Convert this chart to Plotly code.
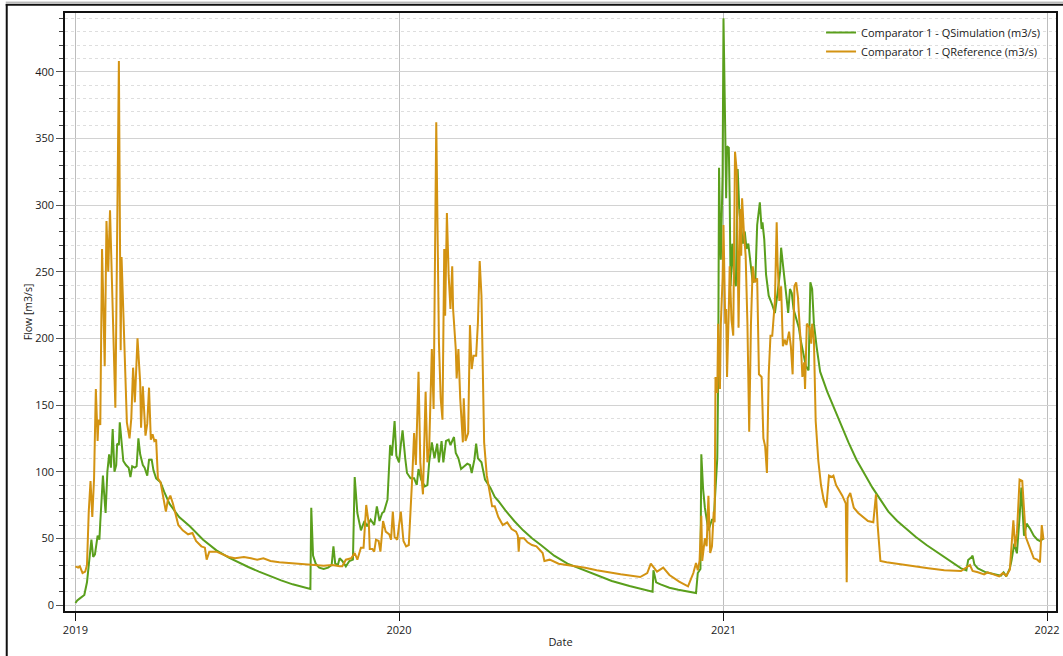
import pandas as pd
import plotly.graph_objects as go

# ---------------- data (day offset from 2019-01-01, flow m3/s) ----------------
START = "2019-01-01"

sim_days_2019 = [0, 2, 5, 10, 13, 16, 18, 20, 22, 25, 27, 28, 31, 32, 34, 36, 38, 40, 42, 44,
                 46, 47, 49, 50, 52, 54, 57, 60, 62, 64, 67, 69, 71, 73, 76, 78, 81, 83, 86, 88,
                 91, 96, 100, 106, 117, 129, 144, 159, 173,
                 185, 195, 207, 220, 232, 245, 256, 265, 266, 268, 271, 275, 280, 285, 289, 291, 293, 296]
sim_flow_2019 = [1.5, 3.5, 5, 7.5, 17, 36, 49, 36, 38, 52, 49, 62, 97, 87, 69, 100, 113, 103, 132, 100,
                 105, 121, 120, 137, 121, 108, 105, 103, 96, 104, 103, 104, 125, 113, 105, 103, 97, 109, 109, 101,
                 95, 92, 85, 76, 66, 59, 49, 41, 35.5,
                 31.5, 28.5, 25, 21.5, 18.5, 15.5, 13.5, 12, 73, 37, 31, 28, 27, 28, 30, 44, 31, 30]

sim_days_2020 = [298, 301, 305, 309, 313, 315, 318, 322, 326, 329, 333, 337, 340, 343, 346, 348, 352, 355, 357, 360,
                 362, 365, 367, 369, 372, 374, 378, 382, 385, 387, 390, 394, 397, 399, 402, 405, 408, 410, 413, 415,
                 418, 421, 423, 427, 429, 432, 435, 438, 442, 445, 447, 450, 452, 454, 458, 462, 468, 473, 477,
                 485, 495, 505, 515, 525, 540, 555, 570, 588, 605, 625, 640, 648, 651, 652, 655, 660, 670, 680]
sim_flow_2020 = [35, 33, 29, 33, 34, 96, 69, 56, 63, 59, 64, 60, 74, 63, 69, 70, 79, 120, 112, 138,
                 112, 107, 120, 131, 110, 99, 95, 95, 90, 102, 94, 89, 90, 107, 122, 110, 121, 107, 123, 107,
                 123, 124, 120, 126, 114, 110, 102, 104, 106, 105, 99, 109, 121, 110, 107, 94, 88, 81, 78,
                 71, 63, 56, 50, 45, 37, 31, 27, 22, 18, 14.3, 11.8, 10.6, 10, 26, 17, 15.5, 13, 11.5]

sim_days_2021 = [691, 700, 702, 705, 706, 708, 710, 712, 714, 716, 718, 720, 722, 724, 725, 726, 727, 728, 730, 731,
                 733, 734, 735, 737, 738, 739, 741, 743, 745, 747, 749, 750, 753, 755, 757, 759, 762, 764, 767, 769,
                 772, 774, 775, 777, 779, 782, 786, 789, 792, 795, 796, 799, 802, 804, 806, 808, 810, 813, 816, 818,
                 821, 824, 827, 829, 831, 833, 836, 840, 848, 856, 864, 872, 881, 890, 899, 908, 917,
                 927, 937, 948, 960, 972, 985, 999, 1005, 1007, 1011, 1012, 1014, 1018, 1027, 1037, 1044, 1047, 1050,
                 1054, 1056, 1059, 1062, 1065, 1067, 1070, 1073, 1077, 1081, 1085, 1088, 1092]
sim_flow_2021 = [10, 9, 24, 27, 113, 87, 73, 64, 56, 60, 64, 64, 93, 110, 171, 328, 285, 259, 323, 440,
                 354, 305, 344, 343, 305, 239, 271, 245, 239, 327, 294, 288, 271, 280, 267, 271, 251, 242, 245, 285,
                 302, 282, 287, 274, 248, 232, 225, 219, 234, 251, 268, 251, 234, 219, 237, 234, 222, 214, 208, 199,
                 188, 179, 176, 242, 237, 211, 194, 175, 160, 147, 134, 122, 109, 98, 88, 79, 70,
                 63, 57, 51, 45, 39.5, 33.5, 27.5, 26, 33.75, 36, 37, 30.5, 27.5, 24.5, 23, 22, 24.5, 21.5,
                 27.5, 33.75, 46, 38.75, 66, 88, 52, 61, 57, 52, 49, 48, 50]

ref_days_2019 = [0, 3, 5, 8, 11, 13, 15, 17, 19, 21, 23, 25, 26, 28, 30, 33, 35, 37, 39, 42,
                 45, 46, 49, 51, 52, 54, 56, 58, 61, 63, 65, 67, 70, 73, 74, 76, 79, 81, 83, 85,
                 87, 89, 91, 93, 96, 99, 102, 104, 107, 110, 113, 116, 121, 127, 132, 136, 142, 146, 148, 151,
                 159, 166, 173,
                 180, 190, 198, 205, 212, 220, 230, 240, 250, 260, 270, 280, 290, 296]
ref_flow_2019 = [29, 28, 29, 24, 25, 30, 70, 93, 66, 95, 162, 123, 139, 135, 267, 179, 288, 250, 296, 218,
                 148, 210, 408, 191, 261, 220, 172, 137, 125, 140, 178, 152, 200, 167, 133, 164, 127, 136, 163, 124,
                 128, 123, 124, 95, 92, 81, 70, 78, 82, 76, 68, 60, 56, 53, 54, 48, 44, 43, 34, 40,
                 40, 38, 36,
                 35, 36, 35, 34, 35, 33, 32, 31.5, 31, 30.5, 30, 29.5, 30, 29]

ref_days_2020 = [298, 301, 305, 311, 315, 318, 322, 325, 328, 331, 332, 335, 337, 339, 342, 344, 347, 350, 354, 356,
                 358, 360, 363, 367, 370, 373, 376, 380, 382, 384, 387, 389, 392, 395, 397, 399, 402, 404, 407, 410,
                 412, 414, 416, 417, 419, 421, 423, 425, 426, 429, 430, 432, 434, 437, 438, 440, 443, 445, 447, 449,
                 452, 454, 456, 458, 461, 464, 468, 470, 473, 477,
                 482, 487, 492, 497, 499, 500, 501, 506, 510, 515, 520, 524, 527, 529, 535, 545, 555, 565, 575, 588,
                 600, 615, 637, 645, 649, 656, 663, 670, 681]
ref_flow_2020 = [29, 29, 34, 35, 39, 34, 43, 43, 75, 60, 42, 42, 40, 49, 48, 40, 63, 55, 53, 49,
                 70, 51, 49, 70, 48, 44, 45, 97, 129, 105, 175, 107, 83, 160, 107, 117, 192, 147, 362, 197,
                 155, 139, 267, 217, 294, 247, 222, 254, 222, 192, 170, 192, 155, 122, 155, 123, 129, 210, 177, 187,
                 187, 212, 258, 232, 122, 97, 83, 74, 74, 66,
                 60, 62, 57, 55, 52, 40, 50, 50, 47, 45, 44, 41, 39, 33, 34, 31, 30, 29, 28, 26,
                 24.5, 23, 21, 24, 31, 25, 28, 22.5, 17.5]

ref_days_2021 = [691, 694, 697, 700, 702, 704, 706, 707, 710, 712, 714, 716, 718, 720, 721, 722, 724, 725, 727, 728,
                 730, 731, 733, 734, 735, 737, 738, 740, 742, 744, 746, 748, 750, 751, 752, 754, 756, 758, 760, 762,
                 764, 766, 769, 771, 774, 776, 778, 780, 782, 784, 786, 789, 791, 792, 794, 796, 798, 800, 802, 805,
                 807, 809, 811, 813, 815, 817, 818, 820, 822, 823, 825, 828, 830, 831, 833, 835, 838, 841, 844, 847,
                 850, 853, 855, 858, 861, 865, 867, 869, 870, 871, 874, 876, 878, 883, 889, 894, 900, 903, 905, 908,
                 915, 925, 943, 962, 980, 999, 1009, 1012, 1018, 1025, 1029, 1037, 1042, 1046, 1050, 1054, 1058,
                 1060, 1062, 1065, 1068, 1072, 1078, 1081, 1085, 1088, 1090, 1092]
ref_flow_2021 = [14, 19, 24, 31.5, 26, 33, 67, 33, 50, 44, 82, 39, 44, 70, 62, 171, 159, 211, 162, 211,
                 245, 285, 211, 222, 171, 222, 254, 214, 202, 340, 325, 208, 297, 262, 305, 280, 262, 211, 130, 211,
                 254, 242, 245, 173, 171, 125, 119, 99, 173, 202, 202, 228, 287, 257, 228, 239, 194, 199, 195, 205,
                 194, 173, 239, 242, 231, 208, 199, 171, 182, 162, 211, 208, 196, 211, 199, 138, 108, 90, 79, 73,
                 97, 96, 97, 90, 87, 82, 79, 76, 17, 80, 84, 79, 73, 69, 66, 63, 62, 83, 59, 33,
                 32, 31, 29, 27.5, 26, 25.5, 30, 25.5, 24.5, 23, 24.5, 22.5, 21.5, 24, 22, 26.5, 63.5,
                 43.5, 53.5, 94, 93, 51, 40, 35, 34, 32, 60, 49]

y_ticks = [0, 50, 100, 150, 200, 250, 300, 350, 400]
series_names = ["Comparator 1 - QSimulation (m3/s)", "Comparator 1 - QReference (m3/s)"]
colors = ["#5a9f1c", "#d39312"]


def to_dates(days):
    return pd.Timestamp(START) + pd.to_timedelta(days, unit="D")


sim_days = sim_days_2019 + sim_days_2020 + sim_days_2021
sim_flow = sim_flow_2019 + sim_flow_2020 + sim_flow_2021
ref_days = ref_days_2019 + ref_days_2020 + ref_days_2021
ref_flow = ref_flow_2019 + ref_flow_2020 + ref_flow_2021

FONT = "Open Sans"

fig = go.Figure()
fig.add_trace(go.Scatter(x=to_dates(sim_days), y=sim_flow, mode="lines", name=series_names[0],
                         line=dict(color=colors[0], width=2)))
fig.add_trace(go.Scatter(x=to_dates(ref_days), y=ref_flow, mode="lines", name=series_names[1],
                         line=dict(color=colors[1], width=2)))

W, H = 1063, 656
L, R, T, B = 65, 3, 13, 45
pw, ph = W - L - R, H - T - B


def px_x(x):
    return (x - L) / pw


def px_y(y):
    return 1 - (y - T) / ph


shapes = [
    # outer window frame
    dict(type="line", xref="paper", yref="paper", x0=px_x(6.5), x1=px_x(6.5), y0=px_y(4), y1=px_y(680),
         line=dict(color="#111111", width=2)),
    dict(type="line", xref="paper", yref="paper", x0=px_x(5.5), x1=px_x(1090), y0=px_y(4.8), y1=px_y(4.8),
         line=dict(color="#111111", width=2)),
    dict(type="line", xref="paper", yref="paper", x0=px_x(5.5), x1=px_x(1090), y0=px_y(2.2), y1=px_y(2.2),
         line=dict(color="#9a9a9a", width=1)),
]

fig.update_layout(
    width=W, height=H,
    margin=dict(l=L, r=R, t=T, b=B, pad=0),
    paper_bgcolor="white", plot_bgcolor="white",
    font=dict(family=FONT, size=11, color="#1a1a1a"),
    showlegend=True,
    legend=dict(x=px_x(1049), xanchor="right", y=px_y(18), yanchor="top",
                bgcolor="rgba(0,0,0,0)", borderwidth=0, font=dict(size=11, color="#1a1a1a"),
                tracegroupgap=0, itemwidth=30),
    shapes=shapes,
    xaxis=dict(
        type="date",
        range=["2018-12-20 05:00", "2022-01-11 02:00"],
        tick0="2019-01-01", dtick="M12", tickformat="%Y",
        ticks="outside", ticklen=8, tickwidth=1, tickcolor="#111111",
        showgrid=True, gridcolor="#bdbdbd", gridwidth=1,
        showline=True, linecolor="#111111", linewidth=1.5, mirror=True,
        zeroline=False,
        title=dict(text="Date", font=dict(size=11), standoff=2),
        tickfont=dict(size=11),
    ),
    yaxis=dict(
        range=[-4.5, 444],
        tickmode="array", tickvals=y_ticks,
        ticks="outside", ticklen=7, tickwidth=1, tickcolor="#555555",
        showgrid=True, gridcolor="#d2d2d2", gridwidth=1.3,
        showline=True, linecolor="#111111", linewidth=1.5, mirror=True,
        zeroline=False,
        minor=dict(dtick=10, tick0=0, ticks="outside", ticklen=4, tickcolor="#444444",
                   showgrid=True, gridcolor="#dedede", griddash="dot", gridwidth=1),
        title=dict(text="Flow [m3/s]", font=dict(size=10.5), standoff=0),
        tickfont=dict(size=11),
    ),
)

fig.write_html("out.html")
